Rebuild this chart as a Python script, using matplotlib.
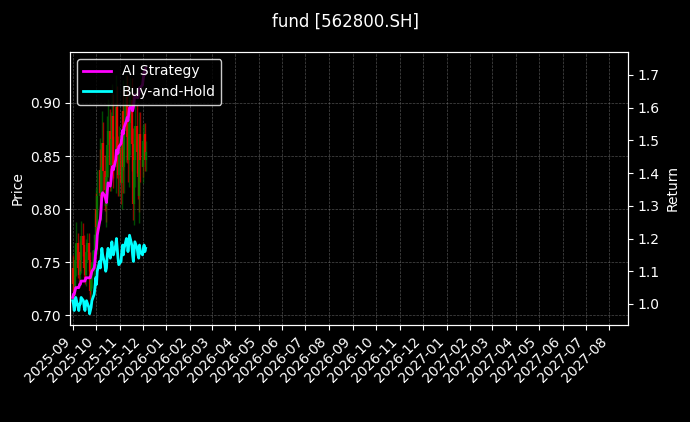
import matplotlib
matplotlib.use("Agg")
import matplotlib.pyplot as plt
import matplotlib.dates as mdates
import pandas as pd

title = "fund [562800.SH]"
close = [.745,.730,.722,.752,.768,.745,.738,.760,.752,.775,.766,.745,.738,.760,.768,.752,.730,.723,.738,.750,.762,.776,
         .800,.783,.812,.837,.815,.840,.862,.836,.818,.803,.830,.860,.874,.842,.866,.888,.854,.840,.871,.896,.854,.832,.858,
         .825,.867,.892,.840,.874,.906,.868,.846,.881,.903,.861,.840,.805,.846,.878,.854,.830,.812,.871,.846,
         .840,.864,.871,.846,.854]
first_open = 0.73
high_ext = [.010,.012,.008,.015,.020,.010,.008,.012,.010,.014,.012,.010,.008,.012,.010,.010,.008,.006,.010,.012,.015,.020,
            .020,.015,.025,.030,.020,.022,.030,.020,.015,.012,.020,.028,.030,.020,.025,.030,.020,.015,.025,.030,.020,.015,.020,
            .015,.025,.030,.020,.025,.020,.020,.015,.025,.020,.020,.015,.010,.020,.025,.020,.015,.010,.020,.020,
            .010,.015,.010,.010,.010]
low_ext = [.010,.012,.010,.012,.015,.010,.008,.010,.010,.012,.010,.010,.008,.010,.010,.010,.010,.008,.010,.012,.015,.020,
           .020,.020,.025,.025,.020,.025,.030,.025,.020,.015,.020,.025,.030,.025,.025,.030,.025,.020,.025,.030,.025,.020,.020,
           .020,.025,.030,.025,.025,.030,.025,.020,.025,.030,.025,.020,.015,.020,.025,.020,.020,.015,.025,.020,
           .010,.015,.015,.010,.010]
bh = [1.01,1.00,0.98,1.00,1.02,0.99,0.98,1.00,1.00,1.02,1.01,0.99,0.98,1.00,1.01,0.99,0.97,0.98,0.99,1.01,1.03,1.05,
      1.08,1.06,1.10,1.13,1.11,1.14,1.17,1.15,1.12,1.10,1.11,1.15,1.17,1.14,1.16,1.19,1.17,1.15,1.18,1.20,1.17,1.14,1.12,
      1.13,1.16,1.18,1.15,1.17,1.20,1.19,1.16,1.18,1.21,1.18,1.15,1.13,1.16,1.19,1.17,1.15,1.14,1.18,1.16,
      1.15,1.17,1.18,1.16,1.17]
ai = [1.02,1.03,1.03,1.04,1.05,1.05,1.05,1.06,1.06,1.07,1.07,1.07,1.07,1.08,1.08,1.08,1.08,1.08,1.09,1.10,1.11,1.13,
      1.16,1.17,1.21,1.25,1.26,1.29,1.33,1.34,1.33,1.32,1.31,1.34,1.37,1.36,1.38,1.41,1.42,1.41,1.44,1.47,1.47,1.46,1.48,
      1.49,1.51,1.53,1.52,1.54,1.56,1.57,1.56,1.58,1.60,1.60,1.59,1.60,1.62,1.64,1.63,1.63,1.64,1.66,1.66,
      1.67,1.69,1.71,1.70,1.72]
dates = pd.bdate_range("2025-09-01", periods=len(close))
opens = [first_open] + close[:-1]

fig = plt.figure(figsize=(6.9, 4.22), dpi=100, facecolor="black")
ax = fig.add_axes([0.102, 0.23, 0.808, 0.647])
ax.set_facecolor("black")
ax2 = ax.twinx()
for d, o, c, h, l in zip(dates, opens, close, high_ext, low_ext):
    col = "green" if c >= o else "red"
    ax.vlines(d, min(o, c) - l, max(o, c) + h, color=col, lw=1, alpha=0.6)
    ax.vlines(d, min(o, c), max(o, c), color=col, lw=1.6, alpha=0.8)
ax2.plot(dates, ai, color="magenta", lw=2, label="AI Strategy")
ax2.plot(dates, bh, color="cyan", lw=2, label="Buy-and-Hold")
ax.set_ylim(0.691, 0.948)
ax2.set_ylim(0.936, 1.77)
ax.set_xlim(pd.Timestamp("2025-08-29"), pd.Timestamp("2027-08-25"))
ax.xaxis.set_major_locator(mdates.MonthLocator())
ax.xaxis.set_major_formatter(mdates.DateFormatter("%Y-%m"))
plt.setp(ax.get_xticklabels(), rotation=45, ha="right")
ax.grid(True, color="gray", ls="--", lw=0.5, alpha=0.6)
for a in (ax, ax2):
    a.tick_params(colors="white")
    for s in a.spines.values():
        s.set_color("white")
ax.set_ylabel("Price", color="white")
ax2.set_ylabel("Return", color="white")
fig.suptitle(title, color="white", y=0.97)
leg = ax2.legend(loc="upper left", facecolor="black", edgecolor="white")
for t in leg.get_texts():
    t.set_color("white")
fig.savefig("out.png", facecolor="black")
